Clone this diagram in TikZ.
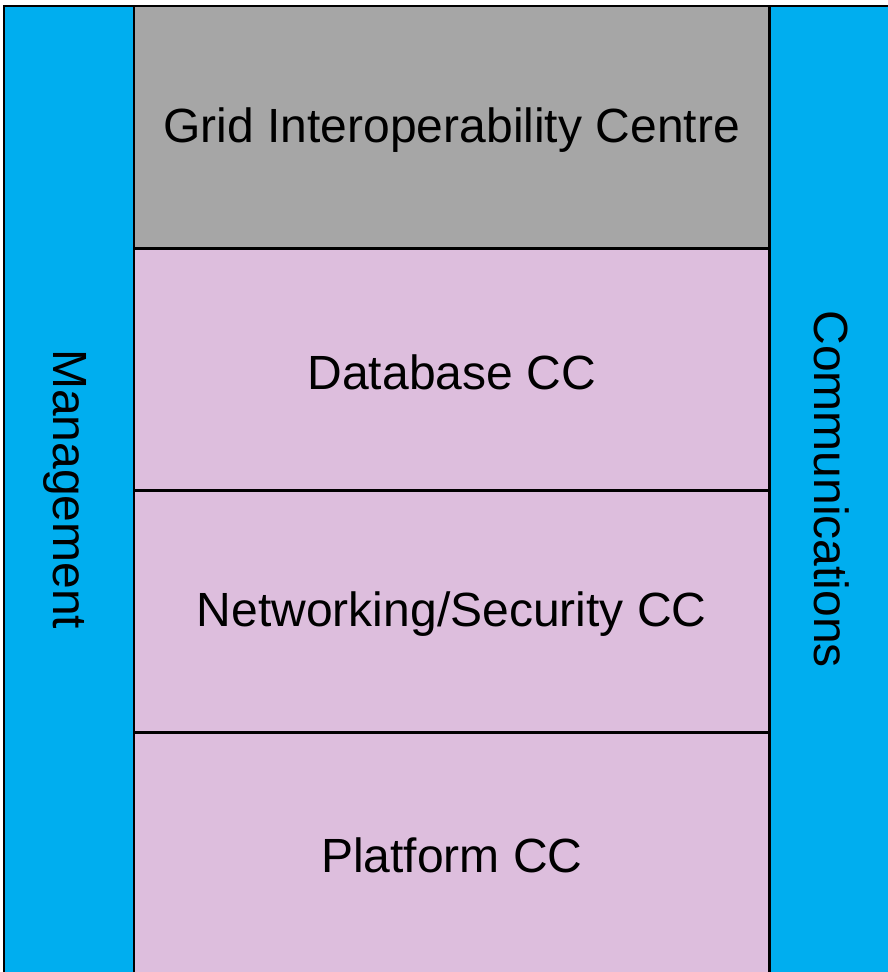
\documentclass[tikz,border=0pt]{standalone}
\usepackage{fontspec}
\setmainfont{Liberation Sans}
\definecolor{colblue}{RGB}{0,174,239}
\definecolor{gridgray}{RGB}{166,166,166}
\definecolor{ccpink}{RGB}{221,190,221}
\begin{document}
\begin{tikzpicture}[x=1pt,y=-1pt,
  panel/.style={rectangle, inner sep=0pt, anchor=north west},
  label/.style={font=\fontsize{48}{56}\selectfont},
  edge/.style={line width=2.6pt, black}]
\useasboundingbox (0,0) rectangle (888,972);
% side columns
\node[panel, fill=colblue, minimum width=130pt, minimum height=966pt] (mgmt) at (4,6) {};
\node[panel, fill=colblue, minimum width=119pt, minimum height=966pt] (comm) at (769,6) {};
\node[label, rotate=-90] at ([xshift=-4pt]mgmt.center) {Management};
\node[label, rotate=-90] at ([xshift=3pt]comm.center) {Communications};
% central stack
\node[panel, fill=gridgray, minimum width=635pt, minimum height=242pt] (gic) at (134,6) {};
\node[panel, fill=ccpink, minimum width=635pt, minimum height=242pt] (db) at (134,248) {};
\node[panel, fill=ccpink, minimum width=635pt, minimum height=242pt] (net) at (134,490) {};
\node[panel, fill=ccpink, minimum width=635pt, minimum height=240pt] (plat) at (134,732) {};
\node[label] at ([yshift=-3pt]gic.center) {Grid Interoperability Centre};
\node[label] at ([yshift=-3pt]db.center) {Database CC};
\node[label] at ([yshift=-3pt]net.center) {Networking/Security CC};
\node[label] at ([yshift=-3pt]plat.center) {Platform CC};
% outlines
\draw[edge] (mgmt.south west) -- (mgmt.north west) -- (comm.north east);
\draw[edge] (gic.north west) -- (plat.south west);
\draw[edge] (gic.north east) -- (plat.south east);
\draw[edge] (gic.south west) -- (gic.south east);
\draw[edge] (db.south west) -- (db.south east);
\draw[edge] (net.south west) -- (net.south east);
\end{tikzpicture}
\end{document}
